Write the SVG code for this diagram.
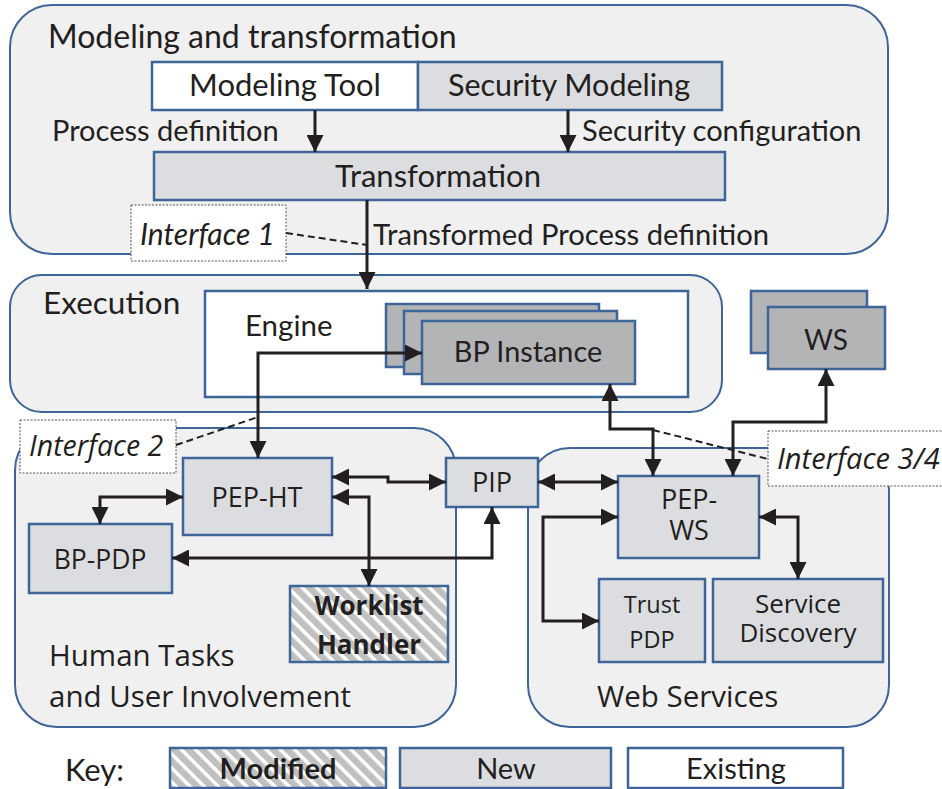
<svg xmlns="http://www.w3.org/2000/svg" width="942" height="789" viewBox="0 0 942 789">
<defs>
<style>
.cont{fill:#f0f0f0;stroke:#3e6598;stroke-width:2}
.new{fill:#dcdde0;stroke:#3e6598;stroke-width:2.5}
.ex{fill:#ffffff;stroke:#3e6598;stroke-width:2.5}
.dark{fill:#b3b4b6;stroke:#3e6598;stroke-width:2.5}
.mod{fill:url(#hatch);stroke:#3e6598;stroke-width:2.5}
.ibox{fill:#ffffff;stroke:#555;stroke-width:1;stroke-dasharray:2 1.5}
.t{font-family:Lato,"Open Sans",sans-serif;fill:#231f20}
.s{font-family:"Open Sans",Lato,sans-serif;fill:#231f20}
.it{font-style:italic}
.b{font-weight:bold}
.m{text-anchor:middle}
.c{fill:none;stroke:#231f20;stroke-width:3}
.d{fill:none;stroke:#231f20;stroke-width:2;stroke-dasharray:7 4}
</style>
<pattern id="hatch" patternUnits="userSpaceOnUse" width="10" height="10" patternTransform="rotate(45)">
<rect width="10" height="10" fill="#c0c0c0"/>
<rect width="10" height="3.5" fill="#ffffff"/>
</pattern>
<marker id="ah" viewBox="0 0 10 10" refX="10" refY="5" markerUnits="userSpaceOnUse" markerWidth="17" markerHeight="17" orient="auto-start-reverse">
<path d="M0,0 L10,5 L0,10 z" fill="#231f20"/>
</marker>
</defs>

<g id="modeling">
<rect class="cont" x="10" y="5" width="878" height="249" rx="42"/>
<text class="t" x="48" y="48" font-size="32">Modeling and transformation</text>
</g>
<g id="modeling-tool">
<rect class="ex" x="152" y="62" width="266" height="48"/>
<text class="t m" x="285" y="96" font-size="31">Modeling Tool</text>
</g>
<g id="security-modeling">
<rect class="new" x="418" y="62" width="304" height="48"/>
<text class="t m" x="569" y="96" font-size="30.5">Security Modeling</text>
</g>
<g id="transformation">
<rect class="new" x="154" y="152" width="571" height="48"/>
<text class="t m" x="438" y="187" font-size="31">Transformation</text>
</g>
<g id="interface1">
<rect class="ibox" x="131" y="205" width="155" height="56"/>
<text class="t it" x="140" y="245" font-size="30">Interface 1</text>
</g>

<g id="execution">
<rect class="cont" x="10" y="275" width="712" height="137" rx="32"/>
<text class="t" x="43" y="314" font-size="31.5">Execution</text>
</g>
<g id="engine">
<rect class="ex" x="205" y="291" width="483" height="106"/>
<text class="t" x="245" y="336" font-size="29.5">Engine</text>
</g>
<g id="bp-instance">
<rect class="dark" x="386" y="304" width="213" height="63"/>
<rect class="dark" x="404" y="311" width="213" height="63"/>
<rect class="dark" x="422" y="321" width="213" height="63"/>
<text class="t m" x="528" y="362" font-size="28.8">BP Instance</text>
</g>
<g id="ws">
<rect class="dark" x="751" y="291" width="116" height="62"/>
<rect class="dark" x="768" y="307" width="117" height="62"/>
<text class="t m" x="826" y="350" font-size="28">WS</text>
</g>

<g id="human-tasks">
<rect class="cont" x="15" y="428" width="441" height="299" rx="42"/>
<text class="s" x="49" y="666" font-size="29.5">Human Tasks</text>
<text class="s" x="49" y="707" font-size="29.5">and User Involvement</text>
</g>
<g id="web-services">
<rect class="cont" x="528" y="448" width="361" height="279" rx="42"/>
<text class="s" x="597" y="707" font-size="29.5">Web Services</text>
</g>
<g id="interface2">
<rect class="ibox" x="20" y="420" width="156" height="53"/>
<text class="s it" x="29" y="456" font-size="28.5">Interface 2</text>
</g>
<g id="interface3-4">
<rect class="ibox" x="768" y="431" width="180" height="55"/>
<text class="s it" x="777" y="469" font-size="29">Interface 3/4</text>
</g>
<g id="pep-ht">
<rect class="new" x="183" y="458" width="149" height="77"/>
<text class="s m" x="257" y="507" font-size="27">PEP-HT</text>
</g>
<g id="bp-pdp">
<rect class="new" x="29" y="524" width="143" height="69"/>
<text class="s m" x="100" y="569" font-size="26.5">BP-PDP</text>
</g>
<g id="worklist-handler">
<rect class="mod" x="290" y="586" width="158" height="76"/>
<text class="s m b" x="369" y="615" font-size="26">Worklist</text>
<text class="s m b" x="369" y="654" font-size="26">Handler</text>
</g>
<g id="pip">
<rect class="new" x="446" y="458" width="92" height="49"/>
<text class="s m" x="492" y="492" font-size="27">PIP</text>
</g>
<g id="pep-ws">
<rect class="new" x="618" y="476" width="141" height="82"/>
<text class="s m" x="689" y="509" font-size="27">PEP-</text>
<text class="s m" x="689" y="540" font-size="27">WS</text>
</g>
<g id="trust-pdp">
<rect class="new" x="599" y="579" width="106" height="83"/>
<text class="s m" x="652" y="613" font-size="23.5">Trust</text>
<text class="s m" x="652" y="648" font-size="23.5">PDP</text>
</g>
<g id="service-discovery">
<rect class="new" x="713" y="579" width="170" height="83"/>
<text class="s m" x="798" y="613" font-size="26">Service</text>
<text class="s m" x="798" y="642" font-size="26">Discovery</text>
</g>

<g id="connectors">
<line class="c" x1="315" y1="110" x2="315" y2="152" marker-end="url(#ah)"/>
<line class="c" x1="568" y1="110" x2="568" y2="152" marker-end="url(#ah)"/>
<line class="c" x1="367" y1="200" x2="367" y2="289" marker-end="url(#ah)"/>
<text class="t" x="373" y="245" font-size="29.2">Transformed Process definition</text>
<text class="t" x="52" y="141" font-size="29">Process definition</text>
<text class="t" x="582" y="141" font-size="29">Security configuration</text>
<path class="d" d="M286,233 L367,245"/>
<path class="c" d="M258,458 L258,353 L422,353" marker-start="url(#ah)" marker-end="url(#ah)"/>
<path class="d" d="M176,445 L258,417"/>
<path class="c" d="M183,497 L100,497 L100,524" marker-start="url(#ah)" marker-end="url(#ah)"/>
<path class="c" d="M332,477 L388,477 L388,482 L446,482" marker-start="url(#ah)" marker-end="url(#ah)"/>
<path class="c" d="M332,497 L369,497 L369,586" marker-start="url(#ah)" marker-end="url(#ah)"/>
<path class="c" d="M172,558 L492,558 L492,507" marker-start="url(#ah)" marker-end="url(#ah)"/>
<path class="c" d="M538,482 L618,482" marker-start="url(#ah)" marker-end="url(#ah)"/>
<path class="c" d="M618,517 L543,517 L543,621 L599,621" marker-start="url(#ah)" marker-end="url(#ah)"/>
<path class="c" d="M759,517 L798,517 L798,579" marker-start="url(#ah)" marker-end="url(#ah)"/>
<path class="c" d="M610,384 L610,429 L653,429 L653,476" marker-start="url(#ah)" marker-end="url(#ah)"/>
<path class="c" d="M826,369 L826,422 L733,422 L733,476" marker-start="url(#ah)" marker-end="url(#ah)"/>
<path class="d" d="M653,430 L768,459"/>
</g>

<g id="key">
<text class="t" x="65" y="781" font-size="31">Key:</text>
<rect class="mod" x="170" y="748" width="216" height="40"/>
<text class="t m b" x="278" y="779" font-size="29">Modified</text>
<rect class="new" x="400" y="748" width="211" height="40"/>
<text class="t m" x="506" y="779" font-size="29">New</text>
<rect class="ex" x="628" y="748" width="215" height="40"/>
<text class="t m" x="736" y="779" font-size="29">Existing</text>
</g>
</svg>
